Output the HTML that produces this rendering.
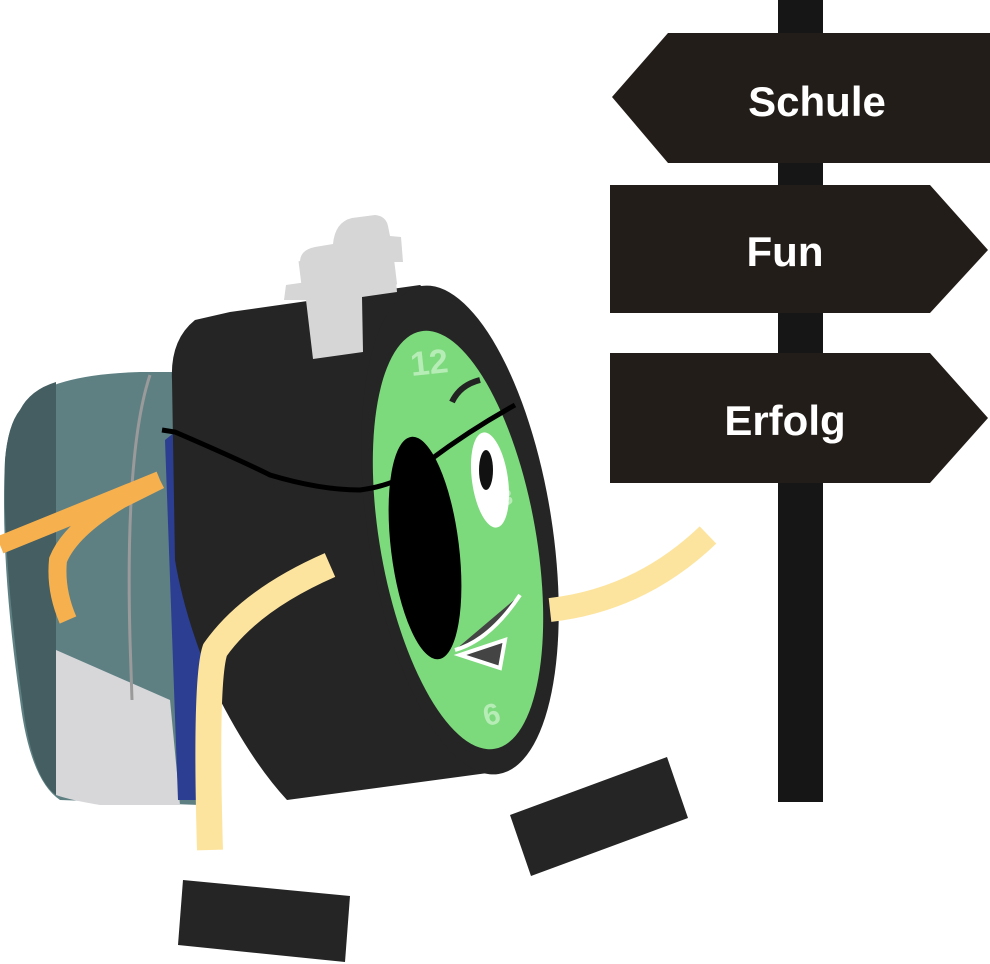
<!DOCTYPE html>
<html><head><style>
html,body{margin:0;padding:0;background:#fff;}
svg{display:block}
text{font-family:"Liberation Sans",sans-serif;font-weight:bold;fill:#fff}
</style></head><body>
<svg width="990" height="964" viewBox="0 0 990 964" xmlns="http://www.w3.org/2000/svg">
<!-- signpost -->
<rect x="778" y="0" width="45" height="802" fill="#161616"/>
<polygon points="612,97 668,33 990,33 990,163 668,163" fill="#221d18"/>
<polygon points="610,185 930,185 988,250 930,313 610,313" fill="#221d18"/>
<polygon points="610,353 930,353 988,418 930,483 610,483" fill="#221d18"/>
<text x="817" y="116" font-size="42" text-anchor="middle">Schule</text>
<text x="785" y="266" font-size="42" text-anchor="middle">Fun</text>
<text x="785" y="435" font-size="42" text-anchor="middle">Erfolg</text>
<!-- backpack -->
<path d="M20,410 Q40,375 140,372 L200,372 L200,805 L60,800 Q30,780 20,700 Q0,560 5,460 Q8,425 20,410Z" fill="#5e8083"/>
<path d="M20,410 Q30,390 56,382 L56,795 Q35,780 25,720 Q2,560 5,460 Q8,425 20,410Z" fill="#445e62"/>
<path d="M56,650 L170,700 L180,805 L100,805 Q70,800 56,795Z" fill="#d7d7da"/>
<path d="M150,375 Q125,450 130,640 L132,700" stroke="#9a9a9a" stroke-width="3" fill="none"/>
<path d="M0,545 L160,480 M160,480 L120,500 Q70,530 58,560 Q55,590 68,620" stroke="#f7b04e" stroke-width="18" fill="none"/>
<!-- blue strip -->
<path d="M165,440 L190,420 L210,800 L178,800Z" fill="#2c3e91"/>
<!-- clock body -->
<path d="M195,320 Q170,340 172,380 L175,560 Q185,620 215,690 Q250,760 287,800 L495,772 L440,300 L420,285 L230,312Z" fill="#252525"/>
<ellipse cx="460" cy="530" rx="92" ry="247" transform="rotate(-9 460 530)" fill="#252525"/>
<!-- bell -->
<path d="M300,262 Q300,250 315,247 L333,244 Q335,222 352,218 L375,215 Q386,216 388,226 L390,236 L401,237 L403,262 Z" fill="#d6d6d6"/>
<path d="M284,300 L286,285 L335,278 L395,270 L397,292 L362,297 L363,352 L313,359 L306,300 Z" fill="#d6d6d6"/>
<rect x="300" y="255" width="95" height="35" fill="#d6d6d6" transform="rotate(-7 350 270)"/>
<ellipse cx="458" cy="540" rx="78" ry="212" transform="rotate(-10 458 540)" fill="#7cd97c"/>
<text x="410" y="375" font-size="34" transform="rotate(-6 420 360)" style="fill:#b6ecb6">12</text>
<text x="500" y="505" font-size="22" style="fill:#b6ecb6" transform="rotate(-10 505 495)">3</text>
<text x="482" y="725" font-size="30" style="fill:#b6ecb6" transform="rotate(-15 490 710)">6</text>
<ellipse cx="490" cy="480" rx="18" ry="48" transform="rotate(-8 490 480)" fill="#fff"/>
<ellipse cx="486" cy="470" rx="7" ry="20" fill="#111"/>
<path d="M452,402 Q460,385 480,380" stroke="#222" stroke-width="6" fill="none"/>
<path d="M455,650 Q490,640 520,595 M460,655 L500,668 L505,640 Z" stroke="#fff" stroke-width="4" fill="#444"/>
<ellipse cx="425" cy="548" rx="34" ry="112" transform="rotate(-7 425 548)" fill="#000"/>
<path d="M162,430 L175,432 Q240,460 270,475 Q320,490 360,490 Q400,485 430,460 Q470,430 515,405" stroke="#000" stroke-width="5" fill="none"/>
<!-- arms -->
<path d="M550,610 Q640,600 708,535" stroke="#fde49e" stroke-width="24" fill="none"/>
<path d="M330,565 Q250,600 215,650 Q205,680 210,850" stroke="#fde49e" stroke-width="26" fill="none"/>
<!-- feet -->
<polygon points="183,880 350,896 345,962 178,945" fill="#252525"/>
<polygon points="510,815 667,757 688,818 531,876" fill="#252525"/>
</svg>
</body></html>
